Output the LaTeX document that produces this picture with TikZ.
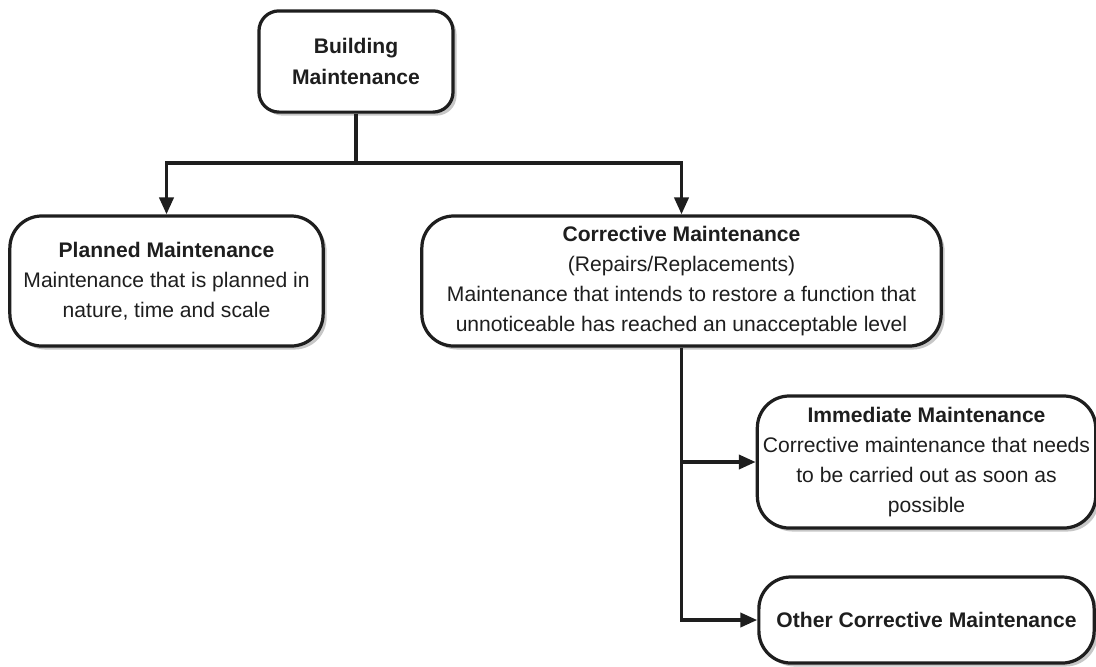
\documentclass[tikz,border=0pt]{standalone}
\usepackage{fontspec}
\setmainfont{Liberation Sans}
\usetikzlibrary{arrows.meta,shadows}
\definecolor{ink}{HTML}{1E1E1E}
\tikzset{
  card/.style={rectangle,rounded corners=0.8cm,draw=ink,line width=2.3pt,fill=white,align=center,inner sep=4pt,
    text=ink,font=\fontsize{15}{21.5}\selectfont,
    drop shadow={shadow xshift=2.5pt,shadow yshift=-2.5pt,opacity=0.22,fill=black}},
  topcard/.style={card,rounded corners=0.5cm},
  link/.style={line width=2.5pt,ink},
  arrow/.style={link,-{Triangle[length=12pt,width=10pt]}}
}

\begin{document}
\begin{tikzpicture}[x=0.025cm,y=-0.025cm]
    \useasboundingbox (0,0) rectangle (1096,666);
    \node[topcard,minimum width=4.85cm,minimum height=2.53cm] (bm) at (356,61.5) {\textbf{Building}\\\textbf{Maintenance}};
    \node[card,minimum width=7.83cm,minimum height=3.25cm] (pm) at (166.5,281) {\textbf{Planned Maintenance}\\Maintenance that is planned in\\nature, time and scale};
    \node[card,minimum width=12.98cm,minimum height=3.25cm] (cm) at (681.5,281) {\textbf{Corrective Maintenance}\\(Repairs/Replacements)\\Maintenance that intends to restore a function that\\unnoticeable has reached an unacceptable level};
    \node[card,minimum width=8.38cm,minimum height=3.3cm] (im) at (926.5,462) {\textbf{Immediate Maintenance}\\Corrective maintenance that needs\\to be carried out as soon as\\possible};
    \node[card,minimum width=8.38cm,minimum height=2.15cm] (om) at (926.5,620) {\textbf{Other Corrective Maintenance}};
    \coordinate (split) at (356,163);
    \draw[link] (bm.south) -- (split);
    \draw[arrow] (split) -| (pm.north); \draw[arrow] (split) -| (cm.north);
    \draw[arrow] (cm.south) |- (im.west); \draw[arrow] (cm.south) |- (om.west);
  \end{tikzpicture}
\end{document}
